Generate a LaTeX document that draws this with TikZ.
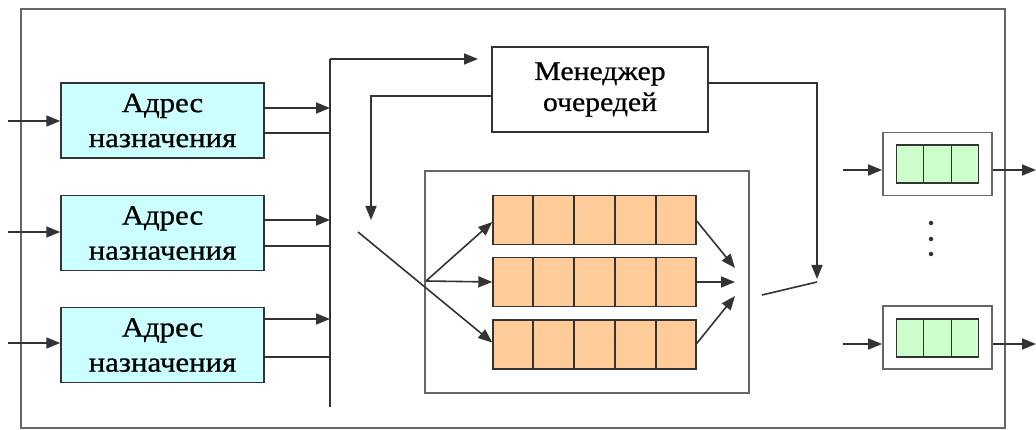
\documentclass[tikz,border=0pt]{standalone}
\usepackage{fontspec}
\setmainfont{Liberation Serif}
\newfontfamily\labelfont[FakeStretch=1.1,FakeBold=0.8]{Liberation Serif}
\usetikzlibrary{arrows.meta,calc}
\definecolor{linecol}{HTML}{333333}
\definecolor{framecol}{HTML}{666666}
\definecolor{addrfill}{HTML}{CCFFFF}
\definecolor{qfill}{HTML}{FFCC99}
\definecolor{outfill}{HTML}{CCFFCC}

\begin{document}
\begin{tikzpicture}[x=1pt,y=-1pt,
  wire/.style={draw=linecol,line width=1.6pt},
  arr/.style={wire,-{Triangle[length=14pt,width=11pt]}},
  addr/.style={draw=linecol,line width=1.5pt,fill=addrfill,
    minimum width=203pt,minimum height=75pt,inner sep=0pt,align=center,
    font=\labelfont\fontsize{28}{35}\selectfont},
  mgr/.style={draw=linecol,line width=1.5pt,fill=white,
    minimum width=216pt,minimum height=85pt,inner sep=0pt,align=center,
    font=\labelfont\fontsize{27}{31}\selectfont},
  frame/.style={draw=framecol,line width=1.7pt},
  qbox/.style={draw=linecol,line width=1.4pt,fill=qfill,
    minimum width=203pt,minimum height=49pt,inner sep=0pt},
  obox/.style={draw=framecol,line width=1.7pt,fill=white,
    minimum width=109pt,minimum height=63pt,inner sep=0pt},
  ocells/.style={draw=linecol,line width=1.4pt,fill=outfill,
    minimum width=82pt,minimum height=38pt,inner sep=0pt},
  dot/.style={circle,fill=linecol,inner sep=0pt,minimum size=4.5pt}
]
\useasboundingbox (0,0) rectangle (1036,430);

% outer frame of the switch
\draw[frame] (21,9) rectangle (1005,428);

% address lookup blocks
\node[addr] (a1) at (162.5,120.5) {Адрес\\назначения};
\node[addr] (a2) at (162.5,233)   {Адрес\\назначения};
\node[addr] (a3) at (162.5,345)   {Адрес\\назначения};

% input ports
\coordinate (i1) at (8,121);
\coordinate (i2) at (8,232);
\coordinate (i3) at (8,343);
\draw[arr] (i1) -- (a1.west |- i1);
\draw[arr] (i2) -- (a2.west |- i2);
\draw[arr] (i3) -- (a3.west |- i3);

% common bus
\coordinate (bt) at (330,59);
\coordinate (bb) at (330,407);
\draw[wire] (bt) -- (bb);

\draw[arr] (a1.east |- 0,108) -- (bt |- 0,108);
\draw[wire] (a1.east |- 0,133) -- (bt |- 0,133);
\draw[arr] (a2.east |- 0,220) -- (bt |- 0,220);
\draw[wire] (a2.east |- 0,246) -- (bt |- 0,246);
\draw[arr] (a3.east |- 0,319) -- (bt |- 0,319);
\draw[wire] (a3.east |- 0,357) -- (bt |- 0,357);

% queue manager
\node[mgr] (m) at (600,89.5) {Менеджер\\очередей};
\coordinate (mi) at (478,59);
\draw[arr] (bt) -- (mi);

% control of the input switch
\coordinate (sa) at (371,220);
\draw[arr] (m.west |- 0,96) -- (sa |- 0,96) -- (sa);

% queue block
\node[draw=framecol,line width=1.7pt,minimum width=324pt,minimum height=222pt,inner sep=0pt]
  (ib) at (587,282) {};

\node[qbox] (q1) at (594.5,220) {};
\node[qbox] (q2) at (594.5,282) {};
\node[qbox] (q3) at (594.5,344.5) {};
\foreach \q in {q1,q2,q3}{
  \foreach \k in {1,...,4}{
    \draw[linecol,line width=1.5pt]
      ($(\q.north west)!\k/5!(\q.north east)$) -- ($(\q.south west)!\k/5!(\q.south east)$);
  }
}

% input switch and distribution to the queues
\coordinate (s0) at (358,232);
\coordinate (f) at (426,281);
\draw[arr] (s0) -- ([yshift=2pt]q3.west);
\draw[arr] (f) -- ([yshift=-2pt]q1.west);
\draw[arr] (f) -- (q2.west);

% queue outputs
\coordinate (c1) at (735,268);
\coordinate (c2) at (735,282);
\coordinate (c3) at (735,296);
\draw[arr] ([yshift=-1pt]q1.east) -- (c1);
\draw[arr] (q2.east) -- (c2);
\draw[arr] ([yshift=1pt]q3.east) -- (c3);

% output switch and its control
\coordinate (o0) at (762,295);
\coordinate (o1) at (817,282);
\draw[wire] (o0) -- (o1);
\coordinate (oc) at (817,279);
\draw[arr] (m.east |- 0,83) -- (oc |- 0,83) -- (oc);

% output ports
\node[obox] (g1) at (937.5,164) {};
\node[ocells] (g1c) at (937.5,164) {};
\node[obox] (g2) at (937.5,337.5) {};
\node[ocells] (g2c) at (937.5,338) {};
\foreach \g in {g1c,g2c}{
  \foreach \k in {1,2}{
    \draw[linecol,line width=1.5pt]
      ($(\g.north west)!\k/3!(\g.north east)$) -- ($(\g.south west)!\k/3!(\g.south east)$);
  }
}

\coordinate (p1) at (843,170);
\coordinate (p2) at (843,344);
\coordinate (r1) at (1036,170);
\coordinate (r2) at (1036,344);
\draw[arr] (p1) -- (g1.west |- p1);
\draw[arr] (p2) -- (g2.west |- p2);
\draw[arr] (g1.east |- p1) -- (r1);
\draw[arr] (g2.east |- p2) -- (r2);

\node[dot] (d1) at (931,223) {};
\node[dot] (d2) at (931,239) {};
\node[dot] (d3) at (931,254) {};
\end{tikzpicture}
\end{document}
